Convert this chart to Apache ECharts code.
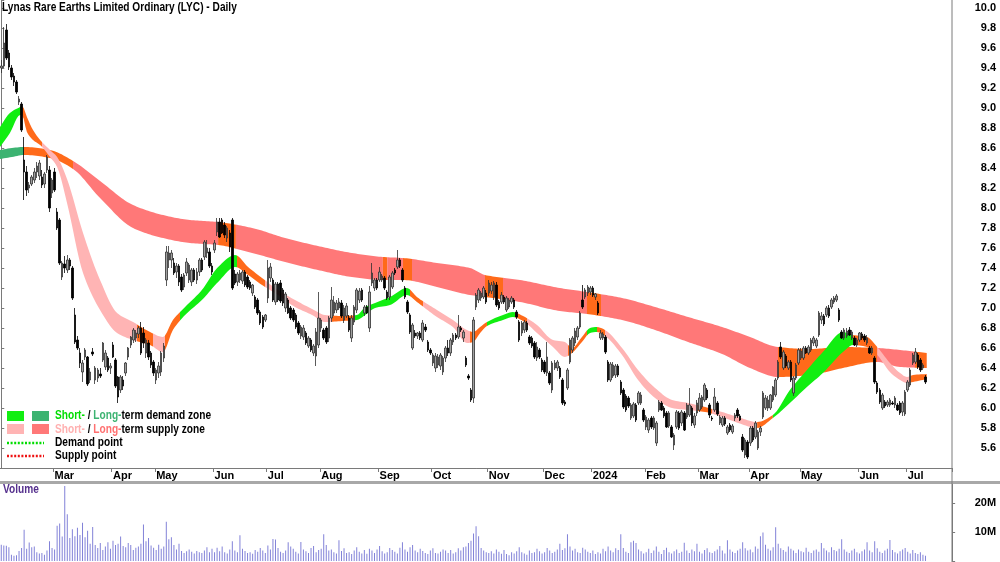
<!DOCTYPE html>
<html><head><meta charset="utf-8">
<script src="https://cdn.jsdelivr.net/npm/echarts@6/dist/echarts.min.js"></script>
<style>html,body{margin:0;padding:0;background:#fff}#c{width:1000px;height:562px}</style>
</head><body><div id="c"></div>
<script>
const FONT = "'Liberation Sans Narrow','Arial Narrow','Liberation Sans',Arial,sans-serif";
const titleText = 'Lynas Rare Earths Limited Ordinary (LYC) - Daily';
const firstDay = [2023, 0, 31];
const lastDay = [2024, 6, 10];
const holidays = ['2023-04-07','2023-04-10','2023-04-25','2023-06-12','2023-12-25','2023-12-26','2024-01-01','2024-01-26','2024-03-29','2024-04-01','2024-04-25','2024-06-10'];
const padDays = 10;
const monthNames = ['Jan','Feb','Mar','Apr','May','Jun','Jul','Aug','Sep','Oct','Nov','Dec'];

// daily candles [open, high, low, close] in cents
const ohlc = [
[940,948,935,942],[942,981,940,965],[978,984,948,950],[955,958,938,941],[940,943,928,931],[932,935,922,926],[926,928,914,916],[906,912,903,909],[904,906,876,878],[848,871,808,836],
[836,842,812,818],[820,826,815,823],[824,833,822,831],[828,840,825,836],[836,846,830,842],[832,848,828,845],[831,838,820,823],[824,836,820,834],[838,853,835,851],[838,842,796,800],
[815,830,810,828],[836,840,816,818],[796,800,778,780],[788,790,743,745],[731,747,728,745],[744,752,735,740],[738,753,735,748],[748,750,738,742],[740,742,708,710],[693,700,664,666],
[668,672,658,660],[655,660,640,645],[636,648,626,645],[651,660,648,658],[651,652,622,624],[628,640,625,636],[656,660,652,654],[628,642,624,640],[630,640,626,638],[634,640,630,632],
[648,666,646,665],[641,658,638,655],[650,652,636,638],[640,645,634,642],[663,666,650,651],[648,650,620,622],[631,632,605,611],[618,633,615,631],[628,632,618,622],[635,646,632,645],
[651,661,648,660],[663,672,660,671],[668,680,665,678],[670,678,666,675],[674,682,670,680],[680,686,653,655],[675,681,660,665],[655,670,650,668],[665,668,648,651],[655,657,640,643],
[646,648,632,635],[628,640,624,638],[635,646,630,642],[636,657,632,655],[650,665,646,662],
[728,762,722,756],[748,762,740,755],[748,758,740,755],[745,750,733,735],[736,745,730,742],[742,744,722,726],[731,734,716,718],[721,735,718,733],[735,750,732,746],[728,745,725,743],
[726,740,722,738],[738,740,726,728],[728,740,724,736],[736,750,732,748],[748,750,736,738],[751,768,748,766],[755,768,750,760],[756,760,740,742],[742,745,733,736],[758,768,755,765],
[776,790,772,786],[786,790,770,771],[788,790,774,775],[783,786,770,773],[770,782,766,780],[775,778,756,761],[788,790,718,720],
[734,738,723,725],[726,736,722,734],[728,738,725,735],[727,738,724,736],[736,738,721,723],[731,733,719,721],[726,728,718,720],[715,724,712,723],[711,713,699,701],[708,710,693,695],
[696,698,683,685],[691,693,679,681],[688,694,686,693],[710,748,705,740],[730,745,726,741],[728,730,706,708],[706,726,703,724],[724,726,706,708],[725,728,705,707],[718,720,702,705],
[700,716,696,714],[708,710,694,695],[700,702,688,690],[698,700,686,688],[693,695,679,681],[685,687,673,675],[672,683,669,681],[671,683,668,680],[675,677,663,665],[662,672,660,670],
[668,670,656,658],[655,664,652,662],[652,680,642,676],[663,716,660,690],[680,690,676,688],[678,680,668,670],[680,682,664,666],[670,692,666,690],[690,721,686,708],[695,712,692,706],
[698,708,695,705],[700,710,698,706],[705,708,690,692],[688,703,685,700],[692,705,690,702],[690,693,676,678],[670,693,666,690],[686,703,683,701],[698,720,695,718],[708,720,705,717],
[718,720,706,708],[695,703,692,701],[701,703,694,695],[680,722,676,716],[725,745,722,735],[720,730,717,728],[728,730,718,720],[728,741,726,736],[728,734,726,732],[730,732,718,720],
[716,718,708,710],[711,733,708,731],[721,737,719,735],[738,740,733,735],[741,758,739,748],[748,750,740,742],[738,740,726,728],[720,722,709,711],[706,708,694,696],[693,695,674,676],
[660,685,658,683],[675,678,670,672],[672,676,669,675],[675,677,668,670],[668,688,666,685],[681,684,676,678],[666,668,656,658],[658,660,653,655],[645,655,642,653],[640,655,636,652],
[643,654,640,651],[642,655,638,653],[636,652,633,650],[650,662,646,660],[660,668,652,655],[655,670,652,668],[666,675,663,673],[673,675,668,670],[671,693,669,681],[680,682,676,678],
[670,678,666,676],[650,652,641,643],[632,634,628,630],[618,620,606,608],
[610,691,605,688],[701,715,698,713],[708,720,705,718],[710,717,707,715],[711,722,709,720],[715,718,704,706],[715,728,712,725],[717,726,714,723],[711,727,708,725],[723,726,701,703],
[706,708,698,700],[706,716,704,713],[711,713,704,706],[698,712,696,710],[701,710,699,708],[706,712,704,710],[708,710,699,701],[696,698,689,691],[686,688,666,668],[675,687,672,685],
[678,688,675,686],[685,687,676,678],[671,673,663,665],[670,672,660,662],[665,667,649,651],[650,666,647,661],[658,660,649,651],[648,650,636,638],[646,648,634,636],[635,666,632,651],
[635,637,623,625],[618,647,615,645],[640,648,638,645],[640,648,637,646],[640,642,629,631],[628,630,603,605],[606,608,602,604],[620,640,618,638],[646,670,644,668],[658,672,655,670],
[665,680,662,677],[671,682,668,680],[681,697,679,695],[708,723,699,701],
[711,720,709,718],[715,723,712,721],[716,722,713,720],[720,722,711,713],[711,715,708,714],[705,707,693,695],[670,678,668,675],[670,676,668,674],[671,673,654,656],[646,648,626,628],
[628,646,626,644],[632,646,630,643],[633,644,630,642],[642,644,631,633],[626,628,613,615],[618,620,599,601],[612,614,596,598],[610,612,600,602],[590,605,588,603],[592,606,590,604],
[603,605,586,588],[605,617,603,615],[605,616,603,613],[598,600,586,588],[581,593,578,591],[578,590,575,588],[590,592,579,581],[580,592,578,590],[565,587,562,585],[598,608,596,606],
[605,607,597,598],[600,602,590,592],[595,597,580,581],[582,597,580,595],[581,583,570,571],[563,575,558,573],[581,598,579,596],[595,597,578,580],[585,598,582,596],[595,597,577,578],
[591,605,589,603],[593,620,591,603],[600,602,582,585],[583,595,580,592],[595,608,592,605],[598,615,596,610],[601,613,599,611],[608,625,606,623],[618,620,608,610],[603,605,590,593],
[590,592,587,589],[598,620,596,611],[605,607,592,594],[585,593,583,591],[583,592,581,590],[590,592,582,584],[575,583,573,581],[583,585,576,578],[576,584,574,582],[590,595,587,593],
[598,600,590,592],[592,594,587,588],
[571,574,556,558],[553,570,550,568],[566,568,549,551],[565,582,562,580],[580,582,566,568],[571,587,569,585],[560,578,558,576],[576,582,572,580],[591,617,589,615],[600,613,598,610],
[600,612,597,608],[600,614,598,613],[608,622,606,621],[613,630,611,628],[630,648,628,646],[661,666,649,651],[640,658,638,656],[652,654,640,642],[640,648,638,646],[646,648,626,628],
[615,632,612,630],[630,645,628,643],[645,660,643,658],[650,660,648,657],[650,662,648,660],[660,662,654,655],[655,663,653,661],[658,670,656,668],[665,672,662,670],[662,670,660,668],
[673,697,671,695],[688,696,684,692],[692,694,682,684],[693,702,691,700],[700,703,690,692],[701,710,699,708],[706,712,704,710],[708,714,706,712],
[698,700,686,688],[676,678,669,670],[670,680,668,678],[672,680,670,677],[678,681,672,673],[670,678,668,676],[670,672,662,663],[663,670,661,668],[668,676,666,675],[674,676,668,670],
[672,674,666,668],[665,673,663,670],[660,662,654,655],[655,662,653,660],[650,652,624,626],[625,627,614,616],[618,620,604,606],[600,615,598,613],[606,608,600,602],[603,608,601,606],
[603,610,601,608],[605,607,603,604],[603,612,600,610],[603,605,597,598],[605,607,593,595],[596,607,592,605],[594,618,592,616],[618,628,616,626],[623,640,621,638],[645,655,643,653],
[646,660,644,656],[653,655,639,641],[648,650,636,638],[640,645,638,643],[631,633,624,626]
];

// daily volume, millions
const volumes = [
5.6,5.4,5.3,4.8,2.2,1.8,2.0,3.5,4.5,10.8,4.2,6.4,4.8,5.0,3.0,2.6,2.8,2.2,3.6,6.8,4.5,
4.0,12.2,13.0,8.5,26.0,16.2,8.0,11.0,8.6,11.5,9.0,13.2,8.2,10.5,6.0,11.8,5.5,4.5,6.2,3.8,
5.0,6.5,4.2,7.0,5.5,6.0,8.5,5.2,4.8,6.2,5.5,3.8,4.6,5.0,6.0,12.6,6.8,8.0,5.4,4.6,3.8,5.6,4.2,5.0,
13.6,7.5,8.2,5.5,4.0,6.0,3.5,2.8,3.4,4.0,3.2,2.6,3.5,3.0,2.8,3.6,4.8,3.0,4.2,3.0,4.6,3.4,5.0,3.0,2.6,4.0,6.8,
3.6,3.0,8.9,4.2,3.5,2.8,3.0,2.5,3.8,3.2,4.5,3.6,2.8,5.4,4.0,7.6,7.4,4.5,3.2,2.8,3.6,6.5,5.0,4.2,3.2,2.6,6.6,4.0,3.4,2.8,4.5,5.2,3.0,3.8,4.2,9.3,5.5,3.6,4.0,
3.0,2.6,7.2,3.5,4.4,2.8,3.0,2.4,3.6,4.8,3.2,2.6,3.8,2.5,4.2,3.6,2.8,4.0,5.2,3.4,2.6,3.0,4.5,3.8,3.2,2.6,4.6,6.5,4.0,3.2,4.8,5.5,3.6,3.0,4.2,3.5,2.8,2.4,3.6,4.4,2.8,2.6,3.2,4.0,3.6,2.8,3.8,2.6,3.0,4.4,3.6,4.8,5.0,6.2,7.0,
9.5,12.0,8.6,4.5,3.6,3.0,2.8,3.4,2.6,4.0,3.2,2.5,3.8,2.4,2.0,3.0,2.6,3.4,4.8,3.0,2.6,2.2,3.6,2.8,3.0,4.2,3.4,2.6,3.0,4.5,3.6,2.8,3.2,4.0,6.0,3.8,4.4,9.3,5.0,3.6,4.2,3.0,2.8,4.6,
4.0,3.2,2.8,3.6,2.4,3.0,2.6,4.2,3.4,5.0,3.6,3.0,4.4,3.8,9.3,4.5,3.2,2.8,6.5,7.0,6.2,4.0,3.4,2.6,3.0,4.2,2.8,3.6,5.0,3.2,2.4,3.8,4.6,3.0,2.6,3.4,4.0,2.8,3.2,6.3,3.6,2.8,4.0,3.4,6.0,3.2,2.6,3.8,4.4,3.0,2.8,3.4,4.0,5.2,3.6,2.6,7.2,4.0,3.2,2.8,3.6,4.2,
6.5,4.4,3.6,4.0,3.0,5.0,4.2,8.6,9.9,5.6,4.2,3.6,4.8,11.7,6.0,4.4,3.8,3.2,5.0,4.2,3.6,2.8,4.0,3.4,3.0,4.6,3.2,2.8,3.6,4.0,3.2,6.2,4.4,3.6,3.0,4.8,3.8,3.4,
4.2,7.5,4.0,3.2,2.8,3.6,4.2,3.0,2.6,3.4,4.0,6.5,3.6,3.0,6.8,4.4,3.2,2.8,3.6,4.2,7.3,3.8,3.0,2.6,3.4,4.0,4.5,3.2,2.6,3.8,2.8,2.4,3.0,2.2,1.8
];

// long-term zone (trading-day index, top / bottom in cents)
const ltIdx = [-0.5,4.2,9,19.2,28.3,38.9,51.9,65.3,74.3,85.4,98.8,111.8,124.7,138.1,150.3,158.2,171.6,184.6,190.5,204.3,220,230.7,244.5,257.5,270.5,283.9,294.9,305.9,318.5,331.5,344.9,354,364.5];
const ltTop = [858,860,861,858,847,827,803,792,788,786,780,770,762,755,751,750,745,740,733,728,720,716,710,701,691,681,671,661,659,661,660,658,655];
const ltBot = [849,851,853,850,839,810,780,769,765,763,755,746,738,731,728,728,721,713,711,706,697,694,688,678,666,654,640,631,633,640,646,641,640];
const ltZoneStart = [-0.5,9,28.3,85.4,92.4,150.3,152,158.2,161.8,190.5,197.6,230.7,236.2,305.9,344.9,359.9];
const ltZoneType = ['LD','IN','LS','IN','LS','IN','LS','IN','LS','IN','LS','IN','LS','IN','LS','IN'];

// short-term zone
const stIdx = [-0.5,3.4,7.4,8.2,10.1,12.5,15.3,19.2,22,25.9,32.2,38.9,45.6,51.9,58.6,63.7,67.6,72.4,79,85.4,92.1,97.2,102.7,109,115.7,122.4,127.5,134.2,140.1,143.3,147.2,153.1,159.8,163.7,171.6,177.9,183.4,185.8,188.6,191.3,197.6,201.5,205.5,211,217.3,222,224.8,228.7,231.9,234.6,237.8,244.5,250.8,257.5,264.2,270.5,277.2,283.9,290.2,297.7,303.9,310.6,317.3,323.6,331.5,335.5,341,345,350,354,356.7,359.1,364.5];
const stTop = [881,895,901,902,891,878,868,858,851,829,775,728,695,686,676,671,688,701,718,741,753,741,730,718,708,699,693,692,693,701,705,711,720,711,698,688,678,676,681,686,693,696,692,683,668,666,660,671,680,681,678,660,638,620,608,605,601,596,591,586,593,618,638,656,676,673,671,661,645,635,631,633,634];
const stBot = [861,875,893,893,876,868,863,851,841,805,735,698,675,668,663,656,678,693,708,726,741,733,723,713,701,693,686,687,688,693,700,703,713,706,691,681,665,666,675,682,688,691,687,675,661,651,655,666,675,676,672,653,628,610,600,598,596,591,585,580,590,605,621,635,656,663,661,653,636,628,625,626,629];
const stZoneStart = [-0.5,8.2,16,53.5,59.8,64.5,70.4,92.8,103.9,130.3,139.3,161,166.1,184.6,191.3,202.3,207.1,223.2,230.7,234.6,237.8,274,279.9,297.7,303.9,335.5,345,357.9];
const stZoneType = ['SD','IN','SS','IN','SS','IN','SD','IN','SS','IN','SD','IN','SS','IN','SD','IN','SS','IN','SD','IN','SS','IN','SS','IN','SD','IN','SS','IN'];

const zoneColors = {LD:'#3cb371', LS:'#ff7878', SD:'#11ee11', SS:'#ffb4b4', IN:'#ff6a1a'};

// ---- build categories (trading days) ----
const categories = [];
const monthStart = new Set();
{
  let t = Date.UTC(firstDay[0], firstDay[1], firstDay[2]);
  const end = Date.UTC(lastDay[0], lastDay[1], lastDay[2]);
  let lastMonth = -1;
  while (t <= end) {
    const d = new Date(t);
    const dow = d.getUTCDay();
    const s = d.toISOString().slice(0, 10);
    if (dow !== 0 && dow !== 6 && holidays.indexOf(s) < 0) {
      if (d.getUTCMonth() !== lastMonth) { monthStart.add(categories.length); lastMonth = d.getUTCMonth(); }
      categories.push(s);
    }
    t += 86400000;
  }
  for (let i = 0; i < padDays; i++) categories.push('pad' + i);
}
const N = categories.length;
const DAYW = 2.539;
const plotW = N * DAYW;

const candleData = ohlc.map(r => [r[0] / 100, r[3] / 100, r[2] / 100, r[1] / 100]);
const showMonth = (i) => monthStart.has(i) && i > 5;

// smooth monotone curve through pixel points (drawing only)
function monoCurve(pts) {
  const n = pts.length, out = [];
  const d = [], m = [];
  for (let i = 0; i < n - 1; i++) d.push((pts[i+1][1] - pts[i][1]) / (pts[i+1][0] - pts[i][0]));
  for (let i = 0; i < n; i++) {
    if (i === 0) m.push(d[0]);
    else if (i === n - 1) m.push(d[n-2]);
    else m.push(d[i-1] * d[i] <= 0 ? 0 : 2 / (1 / d[i-1] + 1 / d[i]));
  }
  for (let i = 0; i < n - 1; i++) {
    const x0 = pts[i][0], x1 = pts[i+1][0], y0 = pts[i][1], y1 = pts[i+1][1], h = x1 - x0;
    const steps = Math.max(2, Math.ceil(h / 2));
    for (let s = 0; s < steps; s++) {
      const t = s / steps, t2 = t * t, t3 = t2 * t;
      const y = (2*t3 - 3*t2 + 1) * y0 + (t3 - 2*t2 + t) * h * m[i] + (-2*t3 + 3*t2) * y1 + (t3 - t2) * h * m[i+1];
      out.push([x0 + t * h, y]);
    }
  }
  out.push(pts[n-1].slice());
  return out;
}

function bandSeries(idx, top, bot, starts, types) {
  const zones = starts.map((s, k) => [s, k < starts.length - 1 ? starts[k+1] : idx[idx.length - 1] + 1, k]);
  let poly = null;
  return {
    type:'custom', xAxisIndex:2, yAxisIndex:0, silent:true, z:1, clip:true, animation:false,
    data: zones, encode:{x:[0, 1], y:[]},
    renderItem: function (params, api) {
      if (!poly) {
        const tp = monoCurve(idx.map((x, i) => api.coord([x, top[i] / 100])));
        const bp = monoCurve(idx.map((x, i) => api.coord([x, bot[i] / 100])));
        poly = tp.concat(bp.reverse());
      }
      const z = zones[params.dataIndex];
      const xa = api.coord([z[0], 7])[0], xb = api.coord([z[1], 7])[0];
      return {type:'polygon', shape:{points: poly},
        clipPath:{type:'rect', shape:{x: xa, y: -100, width: xb - xa, height: 1000}},
        style:{fill: zoneColors[types[z[2]]], stroke:null}};
    }
  };
}

const SX = 0.845; // narrow look for the panel texts
const lblStyle = {color:'#000', fontFamily:FONT, fontWeight:'bold', fontSize:11};
const chart = echarts.init(document.getElementById('c'), null, {renderer:'canvas'});
const gText = (x, y, style) => ({type:'text', x:x, y:y, z:100, silent:true, scaleX:SX, scaleY:1,
  style:Object.assign({verticalAlign:'middle', fill:'#000', font:"bold 12px " + FONT}, style)});
chart.setOption({
  animation:false,
  backgroundColor:'#fff',
  grid:[
    {left:0, top:0, width:plotW, height:468, containLabel:false, outerBoundsMode:'none'},
    {left:0, top:483, width:plotW, height:78, containLabel:false, outerBoundsMode:'none'}
  ],
  xAxis:[
    {gridIndex:0, type:'category', data:categories, boundaryGap:true,
     axisLine:{lineStyle:{color:'#7a7a7a'}},
     axisTick:{show:true, interval:showMonth, length:4, lineStyle:{color:'#7a7a7a'}},
     axisLabel:Object.assign({interval:showMonth, align:'left', margin:2,
       formatter:(v) => { if (v.indexOf('pad') === 0) return ''; const m = +v.slice(5,7); return m === 1 ? v.slice(0,4) : monthNames[m-1]; }}, lblStyle),
     splitLine:{show:false}},
    {gridIndex:1, type:'category', data:categories, boundaryGap:true, show:false},
    {gridIndex:0, type:'value', min:-0.5, max:N - 0.5, show:false}
  ],
  yAxis:[
    {gridIndex:0, type:'value', position:'right', min:5.4, max:10.08, interval:0.2,
     axisLine:{show:true, lineStyle:{color:'#7a7a7a'}},
     axisTick:{show:true, length:3, lineStyle:{color:'#7a7a7a'}},
     axisLabel:Object.assign({align:'right', margin:44,
       formatter:(v) => { const r = Math.round(v * 10) / 10; if (Math.abs(v - r) > 1e-6 || r < 5.55 || r > 10.05) return ''; return r.toFixed(1); }}, lblStyle),
     splitLine:{show:false}},
    {gridIndex:1, type:'value', position:'right', min:0, max:27, interval:10,
     axisLine:{show:true, lineStyle:{color:'#7a7a7a'}},
     axisTick:{show:true, length:3, lineStyle:{color:'#7a7a7a'}},
     axisLabel:Object.assign({align:'right', margin:44,
       formatter:(v) => (Math.abs(v - 10) < 1e-6 ? '10M' : Math.abs(v - 20) < 1e-6 ? '20M' : '')}, lblStyle),
     splitLine:{show:false}}
  ],
  series:[
    bandSeries(ltIdx, ltTop, ltBot, ltZoneStart, ltZoneType),
    bandSeries(stIdx, stTop, stBot, stZoneStart, stZoneType),
    {type:'candlestick', xAxisIndex:0, yAxisIndex:0, data:candleData, barWidth:2, silent:true, z:3,
     itemStyle:{color:'#a0a0a0', color0:'#000000', borderColor:'#303030', borderColor0:'#000000', borderWidth:0.8}},
    {type:'bar', xAxisIndex:1, yAxisIndex:1, data:volumes, barWidth:1, silent:true,
     itemStyle:{color:'#8282d8'}}
  ],
  graphic:[
    gText(2, 8, {text:titleText}),
    gText(3, 490, {text:'Volume', fill:'#55308d'}),
    {type:'rect', z:100, silent:true, shape:{x:0, y:481, width:1000, height:3}, style:{fill:'#a8a8a8'}},
    {type:'line', z:100, silent:true, shape:{x1:952, y1:0, x2:952, y2:562}, style:{stroke:'#7a7a7a', lineWidth:1}},
    {type:'rect', z:100, silent:true, shape:{x:7, y:411, width:17, height:10}, style:{fill:zoneColors.SD}},
    {type:'rect', z:100, silent:true, shape:{x:32, y:411, width:17, height:10}, style:{fill:zoneColors.LD}},
    {type:'rect', z:100, silent:true, shape:{x:7, y:424, width:17, height:10}, style:{fill:zoneColors.SS}},
    {type:'rect', z:100, silent:true, shape:{x:32, y:424, width:17, height:10}, style:{fill:zoneColors.LS}},
    {type:'line', z:100, silent:true, shape:{x1:7, y1:443, x2:44, y2:443}, style:{stroke:'#00dd00', lineWidth:2.5, lineDash:[2,1.6]}},
    {type:'line', z:100, silent:true, shape:{x1:7, y1:456, x2:44, y2:456}, style:{stroke:'#ee1111', lineWidth:2.5, lineDash:[2,1.6]}},
    gText(55, 416, {text:'{g|Short-}{k| / }{lg|Long-}{k|term demand zone}',
      rich:{g:{fill:'#00dd00', font:"bold 12px " + FONT}, lg:{fill:'#3cb371', font:"bold 12px " + FONT}, k:{fill:'#000', font:"bold 12px " + FONT}}}),
    gText(55, 430, {text:'{p|Short-}{k| / }{r|Long-}{k|term supply zone}',
      rich:{p:{fill:'#ffb0b0', font:"bold 12px " + FONT}, r:{fill:'#ff7070', font:"bold 12px " + FONT}, k:{fill:'#000', font:"bold 12px " + FONT}}}),
    gText(55, 443, {text:'Demand point'}),
    gText(55, 456, {text:'Supply point'})
  ]
});
</script></body></html>
